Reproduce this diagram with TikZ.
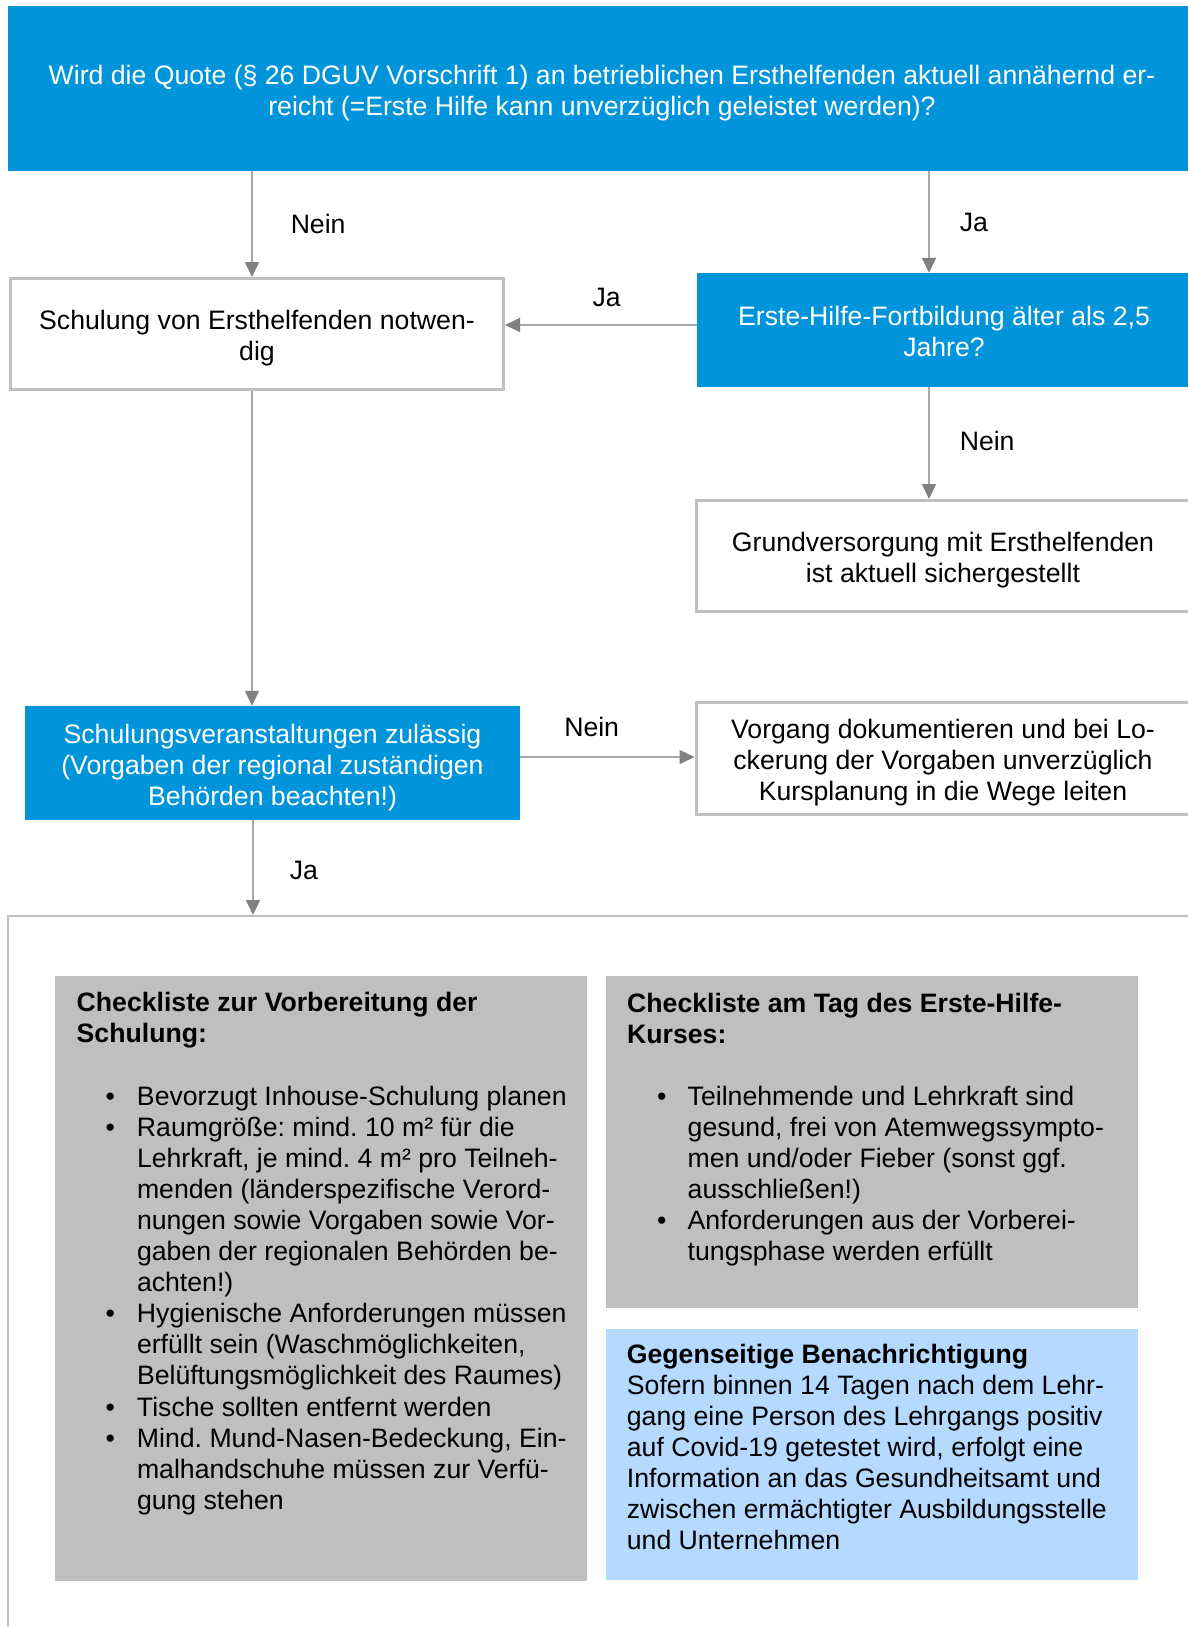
\documentclass[tikz,border=0pt]{standalone}
\usepackage{fontspec}
\setmainfont{Liberation Sans}
\usetikzlibrary{positioning,arrows.meta}
\frenchspacing

\definecolor{dguvblue}{RGB}{0,149,218}
\definecolor{boxgray}{RGB}{191,191,191}
\definecolor{framegray}{RGB}{192,192,192}
\definecolor{linegray}{RGB}{168,168,168}
\definecolor{tipgray}{RGB}{128,128,128}
\definecolor{infoblue}{RGB}{181,217,255}

\newcommand{\flowfont}{\fontsize{26.65}{31.1}\selectfont}
% centred lines of a flow box, first row a little taller
\newcommand{\boxlines}[1]{\begin{tabular}{@{}c@{}}\rule{0pt}{31.9pt}#1\end{tabular}}

\tikzset{
  boxtext/.style={font=\flowfont, inner sep=0pt},
  question/.style={boxtext, rectangle, fill=dguvblue, text=white, minimum height=114pt},
  answer/.style={boxtext, rectangle, draw=framegray, line width=3pt, fill=white, minimum width=494pt, minimum height=111pt},
  panel/.style={rectangle, anchor=north west, inner sep=0pt, minimum width=532pt},
  flow/.style={draw=linegray, line width=1.5pt, -{Triangle[width=14pt,length=15pt,color=tipgray]}},
  lbl/.style={font=\flowfont, inner sep=0pt},
  blocktext/.style={font=\flowfont, anchor=base west, inner sep=0pt}
}

\begin{document}
\begin{tikzpicture}[x=1pt,y=-1pt]
 \useasboundingbox (0,0) rectangle (1188,1627);
 \clip (0,0) rectangle (1188,1627);
 \fill[white] (0,0) rectangle (1188,1627);

 % decision and result boxes
 \node[question, minimum width=1188pt, minimum height=165pt] (q_quote) at (602,88.5) {\boxlines{Wird die Quote (§ 26 DGUV Vorschrift 1) an betrieblichen Ersthelfenden aktuell annähernd er-\\reicht (=Erste Hilfe kann unverzüglich geleistet werden)?}};
 \node[answer, minimum width=493pt] (a_schul) at (257,334) {\boxlines{Schulung von Ersthelfenden notwen-\\dig}};
 \node[question, minimum width=494pt] (q_fortb) at (944,330) {\boxlines{Erste-Hilfe-Fortbildung älter als 2,5\\Jahre?}};
 \node[answer] (a_grund) at (943,556) {\boxlines{Grundversorgung mit Ersthelfenden\\ist aktuell sichergestellt}};
 \node[question, minimum width=495pt] (q_zul) at (272.5,763) {\boxlines{Schulungsveranstaltungen zulässig\\(Vorgaben der regional zuständigen\\Behörden beachten!)}};
 \node[answer, minimum height=112pt] (a_vorg) at (943,758.5) {\boxlines{Vorgang dokumentieren und bei Lo-\\ckerung der Vorgaben unverzüglich\\Kursplanung in die Wege leiten}};

 % checklists
 \node[panel, draw=framegray, line width=2pt, minimum width=1200pt, minimum height=720pt] (checks) at (7,915) {};
 \node[panel, fill=boxgray, minimum height=605pt] (c_prep) at (55,976) {};
 \node[panel, fill=boxgray, minimum height=332pt] (c_day) at (606,976) {};
 \node[panel, fill=infoblue, minimum height=251pt] (c_info) at (606,1329) {};

 \node[blocktext] (t_prep) at (76.5,1011.5) {\begin{tabular}[t]{@{}l@{}}
  \textbf{Checkliste zur Vorbereitung der}\\
  \textbf{Schulung:}
 \end{tabular}};
 \node[blocktext] (l_prep) at (105.3,1105) {\begin{tabular}[t]{@{}p{31.5pt}@{}l@{}}
  •&Bevorzugt Inhouse-Schulung planen\\
  •&Raumgröße: mind. 10 m² für die\\
   &Lehrkraft, je mind. 4 m² pro Teilneh-\\
   &menden (länderspezifische Verord-\\
   &nungen sowie Vorgaben sowie Vor-\\
   &gaben der regionalen Behörden be-\\
   &achten!)\\
  •&Hygienische Anforderungen müssen\\
   &erfüllt sein (Waschmöglichkeiten,\\
   &Belüftungsmöglichkeit des Raumes)\\
  •&Tische sollten entfernt werden\\
  •&Mind. Mund-Nasen-Bedeckung, Ein-\\
   &malhandschuhe müssen zur Verfü-\\
   &gung stehen
 \end{tabular}};

 \node[blocktext] (t_day) at (627,1012.5) {\begin{tabular}[t]{@{}l@{}}
  \textbf{Checkliste am Tag des Erste-Hilfe-}\\
  \textbf{Kurses:}
 \end{tabular}};
 \node[blocktext] (l_day) at (657,1105) {\begin{tabular}[t]{@{}p{30.5pt}@{}l@{}}
  •&Teilnehmende und Lehrkraft sind\\
   &gesund, frei von Atemwegssympto-\\
   &men und/oder Fieber (sonst ggf.\\
   &ausschließen!)\\
  •&Anforderungen aus der Vorberei-\\
   &tungsphase werden erfüllt
 \end{tabular}};

 \node[blocktext] (t_info) at (626.7,1363) {\begin{tabular}[t]{@{}l@{}}
  \textbf{Gegenseitige Benachrichtigung}\\
  Sofern binnen 14 Tagen nach dem Lehr-\\
  gang eine Person des Lehrgangs positiv\\
  auf Covid-19 getestet wird, erfolgt eine\\
  Information an das Gesundheitsamt und\\
  zwischen ermächtigter Ausbildungsstelle\\
  und Unternehmen
 \end{tabular}};

 % connectors
 \draw[flow] ([xshift=-5pt]a_schul.north |- q_quote.south) -- node[lbl, midway, right=38pt] {Nein} ([xshift=-5pt]a_schul.north);
 \draw[flow] ([xshift=-15pt]q_fortb.north |- q_quote.south) -- node[lbl, midway, right=30pt] {Ja} ([xshift=-15pt]q_fortb.north);
 \draw[flow] ([yshift=5pt]q_fortb.west) -- node[lbl, pos=0.47, above=17pt] {Ja} ([yshift=5pt]q_fortb.west -| a_schul.east);
 \draw[flow] ([xshift=-15pt]q_fortb.south) -- node[lbl, pos=0.48, right=30pt] {Nein} ([xshift=-14pt]a_grund.north);
 \draw[flow] ([xshift=-5pt]a_schul.south) -- ([xshift=-5pt]a_schul.south |- q_zul.north);
 \draw[flow] ([yshift=6pt]q_zul.east) -- node[lbl, pos=0.41, above=19pt] {Nein} ([yshift=6pt]q_zul.east -| a_vorg.west);
 \draw[flow] ([xshift=-19.5pt]q_zul.south) -- node[lbl, pos=0.53, right=36pt] {Ja} ([xshift=-19.5pt]q_zul.south |- checks.north);
\end{tikzpicture}
\end{document}
